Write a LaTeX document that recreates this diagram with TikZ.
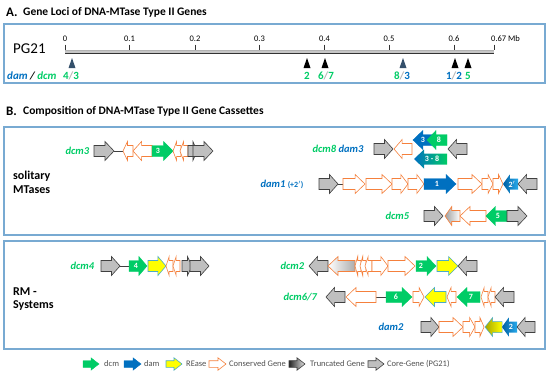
\documentclass[tikz,border=0pt]{standalone}
\usepackage{fontspec}
\setmainfont{Carlito}
\definecolor{boxbl}{RGB}{120,170,210}
\definecolor{dcmg}{RGB}{0,204,102}
\definecolor{damb}{RGB}{0,112,192}
\definecolor{damlt}{RGB}{40,170,235}
\definecolor{orng}{RGB}{245,128,60}
\definecolor{coreg}{RGB}{191,191,191}
\definecolor{outl}{RGB}{64,64,64}
\definecolor{reyel}{RGB}{255,255,0}
\definecolor{reout}{RGB}{75,172,198}
\definecolor{olive}{RGB}{165,165,0}
\definecolor{slate}{RGB}{52,80,107}
\definecolor{legtxt}{RGB}{80,80,80}
\def\gb{5.5}\def\gh{9.5}\def\ghl{10}\def\ghf{0.45}
\newcommand\garrow[4][]{%
 \pgfmathsetmacro\gL{abs(#3-(#2))}%
 \pgfmathsetmacro\gH{min(\ghl,\ghf*\gL)}%
 \pgfmathsetmacro\gB{#3-sign(#3-(#2))*\gH}%
 \draw[#1] (#2,#4-\gb) -- (\gB,#4-\gb) -- (\gB,#4-\gh) -- (#3,#4) -- (\gB,#4+\gh) -- (\gB,#4+\gb) -- (#2,#4+\gb) -- cycle;}
\begin{document}
\begin{tikzpicture}[x=1pt,y=-1pt,
 core/.style={fill=coreg,draw=outl,line width=0.6pt},
 cons/.style={fill=white,draw=orng,line width=0.6pt},
 dcmA/.style={fill=dcmg,draw=dcmg,line width=0.4pt},
 damA/.style={fill=damb,draw=damb,line width=0.4pt},
 rease/.style={fill=reyel,draw=reout,line width=0.6pt},
 link/.style={draw=outl,line width=0.6pt},
 panel/.style={draw=boxbl,line width=1.1pt},
 ttl/.style={font=\bfseries\fontsize{11.5}{13}\selectfont,anchor=west,inner sep=0pt},
 big/.style={font=\bfseries\fontsize{13}{15}\selectfont,anchor=west,inner sep=0pt},
 glab/.style={font=\bfseries\itshape\fontsize{10.5}{12}\selectfont,anchor=west},
 numlab/.style={font=\bfseries\fontsize{8}{9}\selectfont,text=white,inner sep=0pt},
 ticklab/.style={font=\fontsize{8.5}{10}\selectfont,inner sep=0pt},
 mlab/.style={font=\bfseries\fontsize{11}{12}\selectfont,inner sep=0pt},
 side/.style={font=\bfseries\fontsize{12}{14}\selectfont,anchor=west,inner sep=0pt},
 leg/.style={font=\fontsize{8.5}{10}\selectfont,text=legtxt,anchor=west,inner sep=0pt}]
\useasboundingbox (0,0) rectangle (550,375);
% ---------- Panel A
\node[big] (A) at (6,12) {A.};
\node[ttl] (At) at (23,12.5) {Gene Loci of DNA-MTase Type II Genes};
\draw[panel] (4,24) rectangle (545,83);
\node[font=\fontsize{15}{17}\selectfont,anchor=west,inner sep=0pt] (pg) at (13,49) {PG21};
\fill[gray!45] (65,49.6) rectangle (494,53.2);
\draw[gray!60,line width=0.5pt] (65,49.8) -- (494,49.8);
\draw[gray!40!black,line width=0.9pt] (65,53) -- (494,53);
\foreach \x/\t/\n in {65/0/t0,129.5/0.1/t1,195/0.2/t2,259.5/0.3/t3,324.5/0.4/t4,389/0.5/t5,454/0.6/t6}{
  \draw[gray!40!black,line width=0.6pt] (\x,44.5) -- (\x,50);
  \node[ticklab] (\n) at (\x,39) {\t};}
\draw[gray!40!black,line width=0.6pt] (494,44.5) -- (494,50);
\node[ticklab,anchor=west] (t7) at (491,39) {0.67 Mb};
\foreach \x/\c in {72/slate,307/black,325/black,403/slate,455/black,468/black}
  \fill[\c] (\x-3.5,68) -- (\x,58) -- (\x+3.5,68) -- cycle;
\node[mlab] (m43) at (71,75.5) {\textcolor{dcmg}{4}\textcolor{gray!60}{/}\textcolor{dcmg}{3}};
\node[mlab] (m2) at (307,75.5) {\textcolor{dcmg}{2}};
\node[mlab] (m67) at (326,75.5) {\textcolor{dcmg}{6}\textcolor{gray!60}{/}\textcolor{dcmg}{7}};
\node[mlab] (m83) at (402,75.5) {\textcolor{dcmg}{8}\textcolor{gray!60}{/}\textcolor{damb}{3}};
\node[mlab] (m12) at (454,75.5) {\textcolor{damb}{1}\textcolor{gray!60}{/}\textcolor{damb}{2}};
\node[mlab] (m5) at (468,75.5) {\textcolor{dcmg}{5}};
\node[glab,inner sep=0pt,font=\bfseries\itshape\fontsize{11}{12}\selectfont] (dd) at (7,75.5) {\textcolor{damb}{dam} / \textcolor{dcmg}{dcm}};
% ---------- Panel B
\node[big] (B) at (6,111) {B.};
\node[ttl] (Bt) at (23,111.5) {Composition of DNA-MTase Type II Gene Cassettes};
\draw[panel] (4,127) rectangle (545,235);
\draw[panel] (4,241) rectangle (545,349);
\node[side] (sol1) at (13,176) {solitary};
\node[side] (sol2) at (13,189.5) {MTases};
\node[side] (rm1) at (13,292) {RM -};
\node[side] (rm2) at (13,305.5) {Systems};
% dcm3
\node[glab,text=dcmg] (l3) at (62,151) {dcm3};
\draw[link] (114,151) -- (123,151);
\garrow[core]{94}{114}{151}
\garrow[cons]{133}{123}{151}
\garrow[cons]{152}{133}{151}
\garrow[dcmA]{152}{173}{151}
\node[numlab] (n3) at (158,151) {3};
\garrow[cons]{181}{173}{151}
\garrow[cons]{188}{180}{151}
\garrow[core]{188}{197}{151}
\garrow[core]{193}{213}{151}
% dcm8 dam3
\node[glab] (l8) at (309,149) {\textcolor{dcmg}{dcm8} \textcolor{damb}{dam3}};
\garrow[core]{374}{393}{149}
\garrow[cons]{412}{394}{149}
\garrow[damA]{435}{413}{140}
\garrow[dcmA]{447}{427}{140}
\node[numlab] (n3b) at (423,140) {3};
\node[numlab] (n8) at (439,140) {8};
\garrow[left color=damb,right color=dcmg,draw=none]{447}{414}{159}
\node[numlab] (n38) at (432,159) {3 - 8};
\garrow[core]{467}{448}{149}
% dam1
\node[glab,text=damb] (l1) at (257,184) {dam1 {\normalfont\bfseries\fontsize{8}{9}\selectfont (+2$'$)}};
\draw[link] (338,184) -- (343,184);
\garrow[core]{319}{338}{184}
\garrow[cons]{343}{365}{184}
\garrow[cons]{366}{392}{184}
\garrow[cons]{392}{408}{184}
\garrow[cons]{408}{424}{184}
\garrow[damA]{424}{456}{184}
\node[numlab] (n1) at (437,184) {1};
\garrow[cons]{458}{482}{184}
\garrow[cons]{482}{493}{184}
\garrow[cons]{493}{503}{184}
\garrow[left color=damb!85!black,right color=damlt,draw=none]{518}{503}{184}
\node[numlab] (n2p) at (512,184) {2$'$};
\garrow[core]{537}{518}{184}
% dcm5
\node[glab,text=dcmg] (l5) at (382,216) {dcm5};
\garrow[core]{424}{443}{216}
\garrow[left color=gray!75,right color=white,draw=orng,line width=0.6pt]{460}{445}{216}
\garrow[cons]{486}{460}{216}
\garrow[dcmA]{507}{486}{216}
\node[numlab] (n5) at (498,216) {5};
\garrow[core]{507}{527}{216}
% dcm4
\node[glab,text=dcmg] (l4) at (67,266) {dcm4};
\draw[link] (120,266) -- (129,266);
\garrow[core]{101}{120}{266}
\garrow[dcmA]{129}{147}{266}
\node[numlab] (n4) at (136,266) {4};
\garrow[rease]{148}{166}{266}
\garrow[cons]{173}{166}{266}
\garrow[cons]{180}{173}{266}
\garrow[core]{182}{192}{266}
\garrow[core]{190}{209}{266}
% dcm2
\node[glab,text=dcmg] (l2) at (277,266) {dcm2};
\garrow[core]{328}{309}{266}
\garrow[left color=white,right color=gray!65,draw=orng,line width=0.6pt]{355}{328}{266}
\garrow[cons]{361}{355}{266}
\garrow[cons]{366}{360}{266}
\garrow[cons]{372}{365}{266}
\garrow[cons]{372}{388}{266}
\garrow[cons]{388}{415}{266}
\garrow[dcmA]{416}{436}{266}
\node[numlab] (n2) at (421,266) {2};
\garrow[rease]{437}{458}{266}
\garrow[core]{477}{458}{266}
% dcm6/7
\node[glab,text=dcmg] (l67) at (280,297) {dcm6/7};
\draw[link] (376,297) -- (386,297);
\garrow[core]{345}{326}{297}
\garrow[cons]{376}{346}{297}
\garrow[dcmA]{386}{412}{297}
\node[numlab] (n6) at (396,297) {6};
\garrow[cons]{413}{424}{297}
\garrow[rease]{446}{425}{297}
\garrow[cons]{456}{447}{297}
\garrow[dcmA]{480}{457}{297}
\node[numlab] (n7) at (471,297) {7};
\garrow[cons]{488}{481}{297}
\garrow[cons]{495}{488}{297}
\garrow[core]{514}{495}{297}
% dam2
\node[glab,text=damb] (ld2) at (375,327) {dam2};
\garrow[core]{421}{439}{327}
\garrow[cons]{439}{463}{327}
\garrow[cons]{463}{475}{327}
\garrow[cons]{475}{484}{327}
\garrow[left color=olive,right color=reyel,draw=reout,line width=0.5pt]{502}{485}{327}
\garrow[left color=damb!85!black,right color=damlt,draw=none]{517}{502}{327}
\node[numlab] (n2b) at (511,327) {2};
\garrow[core]{535}{517}{327}
% ---------- Legend
\def\gb{3.3}\def\gh{6.2}\def\ghl{8}\def\ghf{0.5}
\garrow[dcmA]{83}{99}{364}
\node[leg] (g1) at (104,363.5) {dcm};
\garrow[damA]{124}{141}{364}
\node[leg] (g2) at (144,363.5) {dam};
\garrow[rease]{166}{182}{364}
\node[leg] (g3) at (186,363.5) {REase};
\garrow[cons]{209}{226}{364}
\node[leg] (g4) at (229,363.5) {Conserved Gene};
\garrow[left color=gray!30!black,right color=gray!20,draw=outl,line width=0.6pt]{289}{305}{364}
\node[leg] (g5) at (310,363.5) {Truncated Gene};
\garrow[core]{368}{384}{364}
\node[leg] (g6) at (387,363.5) {Core-Gene (PG21)};
\end{tikzpicture}
\end{document}
